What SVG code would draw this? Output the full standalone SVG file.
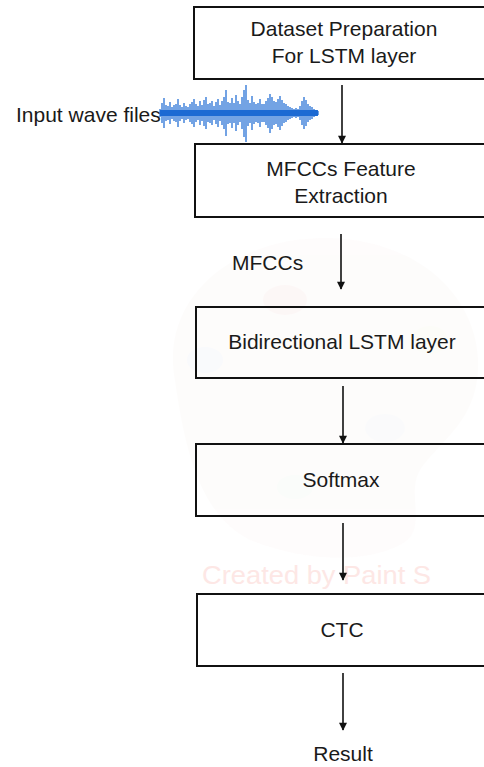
<svg xmlns="http://www.w3.org/2000/svg" width="484" height="767" viewBox="0 0 484 767">
  <style>
    .box { fill: none; stroke: #111; stroke-width: 2; }
    .lbl { font-family: "Liberation Sans", Arial, sans-serif; font-size: 21px; fill: #1a1a1a; }
    .mid { text-anchor: middle; }
    .edge { stroke: #111; stroke-width: 1.6; fill: none; marker-end: url(#head); }
    .mark { font-family: "Liberation Sans", Arial, sans-serif; font-size: 25px; fill: #fde7e5; }
  </style>
  <defs>
    <marker id="head" viewBox="0 0 10 10" refX="9" refY="5" markerWidth="5.5" markerHeight="5" orient="auto" markerUnits="strokeWidth">
      <path d="M0,0 L10,5 L0,10 Z" fill="#111"/>
    </marker>
  </defs>

  <rect width="484" height="767" fill="#fff"/>

  <!-- faint palette watermark behind the flow -->
  <g id="watermark">
    <g opacity="0.18">
      <path d="M175,380 C160,300 230,240 320,238 C410,236 475,290 478,360 C480,420 440,440 420,470 C405,495 430,530 400,545 C360,565 300,560 250,540 C200,515 185,450 175,380 Z" fill="#f8f1ec"/>
      <ellipse cx="285" cy="300" rx="22" ry="15" fill="#f4d6d3"/>
      <ellipse cx="205" cy="360" rx="18" ry="13" fill="#dfe4f4"/>
      <ellipse cx="385" cy="428" rx="20" ry="14" fill="#e6e9ee"/>
      <ellipse cx="295" cy="487" rx="18" ry="12" fill="#e4efe4"/>
      <ellipse cx="430" cy="340" rx="18" ry="14" fill="#f3efdc"/>
    </g>
    <text class="mark" x="202" y="584" textLength="229" lengthAdjust="spacingAndGlyphs">Created by Paint S</text>
  </g>

  <!-- audio waveform -->
  <g id="wave" stroke="#1767d2" stroke-width="1.5" fill="none">
    <path opacity="0.8" d="M160,109V117 M162,103V123 M164,98V128 M166,105V121 M168,106V120 M170,102V124 M172,107V119 M174,105V121 M176,104V122 M178,99V127 M180,105V121 M182,107V119 M184,103V123 M186,106V120 M188,107V119 M190,104V122 M192,102V124 M194,99V127 M196,104V122 M198,106V120 M200,101V125 M202,105V121 M204,100V126 M206,97V129 M208,104V122 M210,103V123 M212,101V125 M214,106V120 M216,102V124 M218,99V127 M220,105V121 M222,101V125 M224,97V129 M226,90V136 M228,102V124 M230,103V123 M232,98V128 M234,103V123 M236,95V131 M238,101V125 M240,104V122 M242,97V129 M244,90V137 M246,85V142 M248,100V126 M250,103V123 M252,96V130 M254,102V124 M256,104V122 M258,103V123 M260,99V127 M262,104V122 M264,104V122 M266,101V125 M268,98V128 M270,94V133 M272,97V129 M274,101V125 M276,102V124 M278,99V127 M280,96V130 M282,100V126 M284,103V123 M286,104V122 M288,106V120 M290,107V119 M292,108V118 M294,109V117 M296,108V118 M298,109V117 M300,106V120 M302,101V125 M304,97V129 M306,100V126 M308,104V122 M310,106V120 M312,107V119 M314,109V117 M316,110V116 M318,111V115"/>
    <path d="M160,113 L318,113" stroke-width="6" opacity="0.95"/>
  </g>

  <!-- flow steps -->
  <g id="n-dataset">
    <rect class="box" x="194" y="7" width="300" height="72"/>
    <text class="lbl mid" x="344" y="36">Dataset Preparation</text>
    <text class="lbl mid" x="344" y="63">For LSTM layer</text>
  </g>
  <g id="n-input">
    <text class="lbl" x="16" y="122">Input wave files</text>
  </g>
  <g id="n-mfcc">
    <rect class="box" x="195" y="144" width="300" height="73"/>
    <text class="lbl mid" x="341" y="176">MFCCs Feature</text>
    <text class="lbl mid" x="341" y="203">Extraction</text>
  </g>
  <g id="n-mfccs-label">
    <text class="lbl" x="232" y="270">MFCCs</text>
  </g>
  <g id="n-blstm">
    <rect class="box" x="196" y="307" width="300" height="71"/>
    <text class="lbl mid" x="342" y="349">Bidirectional LSTM layer</text>
  </g>
  <g id="n-softmax">
    <rect class="box" x="196" y="444" width="300" height="72"/>
    <text class="lbl mid" x="341" y="487">Softmax</text>
  </g>
  <g id="n-ctc">
    <rect class="box" x="197" y="594" width="300" height="72"/>
    <text class="lbl mid" x="342" y="637">CTC</text>
  </g>
  <g id="n-result">
    <text class="lbl mid" x="343" y="761">Result</text>
  </g>

  <!-- connectors -->
  <g id="connectors">
    <line class="edge" x1="342" y1="85" x2="342" y2="143"/>
    <line class="edge" x1="341" y1="234" x2="341" y2="289"/>
    <line class="edge" x1="343" y1="386" x2="343" y2="443"/>
    <line class="edge" x1="343" y1="523" x2="343" y2="580"/>
    <line class="edge" x1="343" y1="673" x2="343" y2="730"/>
  </g>
</svg>
